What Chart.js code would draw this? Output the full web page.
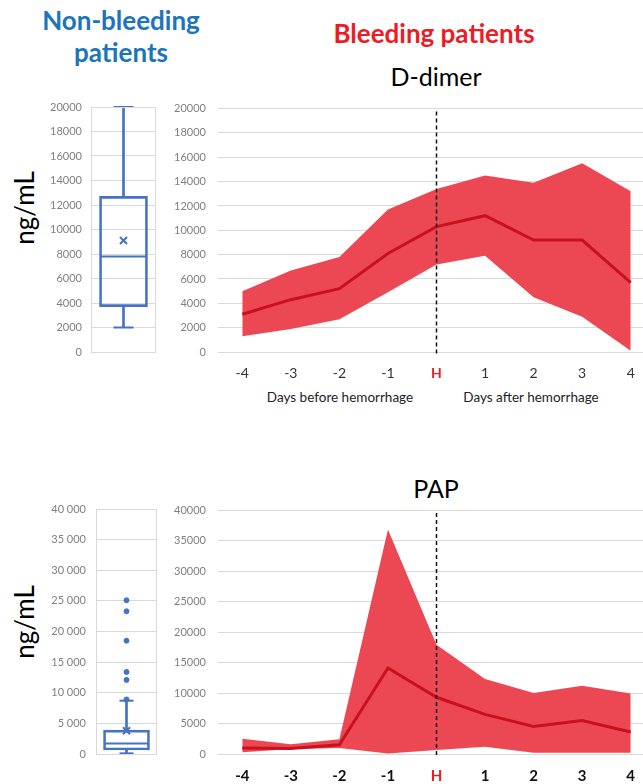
<!DOCTYPE html>
<html>
<head>
<meta charset="utf-8">
<script src="https://cdn.jsdelivr.net/npm/chart.js@4.4.0/dist/chart.umd.min.js"></script>
<style>
html, body { margin: 0; padding: 0; overflow: hidden; background: #fff; width: 643px; height: 784px; }
body { position: relative; font-family: Lato, sans-serif; }
.txt { position: absolute; transform: translate(-50%, -50%); white-space: nowrap; line-height: 1; }
.unit { position: absolute; transform: translate(-50%, -50%) rotate(-90deg); font-size: 26px; white-space: nowrap; line-height: 1; color: #000; }
canvas { position: absolute; }
</style>
</head>
<body>
<div class="txt" style="left:121px;top:20px;font-size:26px;font-weight:bold;color:#1b75bc">Non-bleeding</div>
<div class="txt" style="left:121px;top:52px;font-size:26px;font-weight:bold;color:#1b75bc">patients</div>
<div class="txt" style="left:434px;top:33px;font-size:26px;font-weight:bold;color:#ed1c24">Bleeding patients</div>
<div class="txt" style="left:436px;top:76px;font-size:25px;color:#000">D-dimer</div>
<div class="txt" style="left:436px;top:488px;font-size:25px;color:#000">PAP</div>
<div class="unit" style="left:24px;top:208px">ng/mL</div>
<div class="unit" style="left:24px;top:622px">ng/mL</div>
<div class="txt" style="left:340px;top:398px;font-size:13.5px;color:#222">Days before hemorrhage</div>
<div class="txt" style="left:531px;top:398px;font-size:13.5px;color:#222">Days after hemorrhage</div>

<canvas id="ddimer-box" width="160" height="290" style="left:0;top:90px"></canvas>
<canvas id="ddimer-line" width="500" height="300" style="left:160px;top:90px"></canvas>
<canvas id="pap-box" width="170" height="294" style="left:0;top:490px"></canvas>
<canvas id="pap-line" width="500" height="294" style="left:160px;top:490px"></canvas>

<script>
// days relative to the hemorrhage (H)
const days = ['-4', '-3', '-2', '-1', 'H', '1', '2', '3', '4'];

// D-dimer, bleeding patients
const ddimerUpper = [5000, 6700, 7800, 11700, 13400, 14500, 13900, 15500, 13200];
const ddimerMedian = [3100, 4300, 5200, 8100, 10300, 11200, 9200, 9200, 5700];
const ddimerLower = [1300, 1900, 2700, 4900, 7200, 7900, 4500, 2900, 100];

// PAP, bleeding patients
const papUpper = [2500, 1600, 2400, 36800, 17900, 12300, 10000, 11200, 9900];
const papMedian = [1000, 900, 1500, 14100, 9300, 6500, 4500, 5500, 3600];
const papLower = [300, 800, 1000, 100, 650, 1200, 200, 200, 200];

// non-bleeding patients: min, q1, median, q3, max
const ddimerNonBleeding = [2000, 3700, 7800, 12700, 20000];
const ddimerNonBleedingMean = 9100;
const ddimerOutliers = [];
const papNonBleeding = [100, 650, 1700, 3900, 8700];
const papNonBleedingMean = 3800;
const papOutliers = [8900, 12100, 13400, 18500, 23300, 25100];

const blue = '#4472c4';
const bandRed = '#ec4853';
const lineRed = '#c8101e';
const titleRed = '#ed1c24';
const gridGrey = '#d9d9d9';
const tickGrey = '#808080';

Chart.defaults.font.family = 'Lato, sans-serif';
Chart.defaults.animation = false;

const frame = {
    id: 'frame',
    afterDraw(chart) {
        const a = chart.chartArea;
        const ctx = chart.ctx;
        ctx.save();
        ctx.strokeStyle = gridGrey;
        ctx.lineWidth = 1;
        ctx.strokeRect(a.left + 0.5, a.top + 0.5, a.right - a.left - 1, a.bottom - a.top);
        ctx.restore();
    }
};

const hemorrhageLine = {
    id: 'hemorrhageLine',
    afterDatasetsDraw(chart) {
        const x = chart.scales.x.getPixelForValue(days.indexOf('H'));
        const a = chart.chartArea;
        const ctx = chart.ctx;
        ctx.save();
        ctx.strokeStyle = '#111';
        ctx.lineWidth = 1.5;
        ctx.setLineDash([4, 3]);
        ctx.beginPath();
        ctx.moveTo(x, a.top + 3);
        ctx.lineTo(x, a.bottom + 3);
        ctx.stroke();
        ctx.restore();
    }
};

function spaced(v) {
    return v.toString().replace(/\B(?=(\d{3})+(?!\d))/g, ' ');
}

function boxChart(id, stats, mean, outliers, o) {
    let [lo, q1, med, q3, hi] = stats;
    new Chart(document.getElementById(id), {
        type: 'bar',
        data: {
            labels: ['N'],
            datasets: [
                { data: [[q1, q3]], backgroundColor: 'rgba(0,0,0,0)', borderColor: blue, borderWidth: 2,
                  borderSkipped: false, barThickness: o.boxWidth, grouped: false },
                { data: [[q3, hi]], backgroundColor: blue, borderWidth: 0, barThickness: 2, grouped: false },
                { data: [[lo, q1]], backgroundColor: blue, borderWidth: 0, barThickness: 2, grouped: false },
                { type: 'line', data: [med], showLine: false, pointStyle: 'line', pointRadius: o.boxWidth / 2 - 1,
                  pointBorderColor: blue, pointBorderWidth: 2 },
                { type: 'line', data: [{ x: 'N', y: hi }, { x: 'N', y: lo }], showLine: false, pointStyle: 'line',
                  pointRadius: o.capWidth / 2, pointBorderColor: blue, pointBorderWidth: 2, clip: false },
                { type: 'line', data: [mean], showLine: false, pointStyle: 'crossRot', pointRadius: 5,
                  pointBorderColor: blue, pointBorderWidth: 2 },
                { type: 'line', data: outliers.map(v => ({ x: 'N', y: v })), showLine: false, pointStyle: 'circle',
                  pointRadius: 2.5, pointBackgroundColor: blue, pointBorderColor: blue, pointBorderWidth: 1 }
            ]
        },
        options: {
            responsive: false,
            layout: { padding: o.padding, autoPadding: false },
            plugins: { legend: { display: false }, tooltip: { enabled: false } },
            scales: {
                x: { display: false, offset: true },
                y: {
                    min: 0, max: o.max,
                    grid: { color: gridGrey, drawTicks: false },
                    border: { display: false },
                    ticks: { stepSize: o.step, padding: o.tickPad, color: tickGrey, font: { size: 11 }, callback: o.format },
                    afterFit: s => { s.width = o.axisWidth; }
                }
            }
        },
        plugins: [frame]
    });
}

function bandChart(id, upper, median, lower, o) {
    new Chart(document.getElementById(id), {
        type: 'line',
        data: {
            labels: days,
            datasets: [
                { data: median, borderColor: lineRed, borderWidth: 3, pointRadius: 0, fill: false, tension: 0 },
                { data: upper, borderWidth: 0, borderColor: bandRed, backgroundColor: bandRed, pointRadius: 0, fill: '+1', tension: 0 },
                { data: lower, borderWidth: 0, borderColor: bandRed, pointRadius: 0, fill: false, tension: 0 }
            ]
        },
        options: {
            responsive: false,
            layout: { padding: o.padding, autoPadding: false },
            plugins: { legend: { display: false }, tooltip: { enabled: false } },
            scales: {
                x: {
                    offset: true,
                    grid: { display: false, drawTicks: false },
                    border: { display: false },
                    ticks: {
                        padding: o.xPad,
                        color: c => days[c.index] === 'H' ? titleRed : o.xColor,
                        font: c => ({ size: o.xSize, weight: (days[c.index] === 'H' || o.xBold) ? 'bold' : 'normal' })
                    },
                    afterFit: s => { s.height = o.xHeight; }
                },
                y: {
                    min: 0, max: o.max,
                    grid: { color: gridGrey, drawTicks: false },
                    border: { display: false },
                    ticks: { stepSize: o.step, padding: 12, color: tickGrey, font: { size: 11 }, callback: v => v },
                    afterFit: s => { s.width = 58; }
                }
            }
        },
        plugins: [hemorrhageLine]
    });
}

boxChart('ddimer-box', ddimerNonBleeding, ddimerNonBleedingMean, ddimerOutliers, {
    max: 20000, step: 2000, boxWidth: 48, capWidth: 20, axisWidth: 91, tickPad: 9,
    padding: { top: 17, right: 4, bottom: 28, left: 0 }, format: v => v
});

boxChart('pap-box', papNonBleeding, papNonBleedingMean, papOutliers, {
    max: 40000, step: 5000, boxWidth: 46, capWidth: 14, axisWidth: 96, tickPad: 10,
    padding: { top: 19, right: 13, bottom: 30, left: 0 }, format: spaced
});

bandChart('ddimer-line', ddimerUpper, ddimerMedian, ddimerLower, {
    max: 20000, step: 2000, xPad: 13, xSize: 14, xBold: false, xColor: '#333', xHeight: 38,
    padding: { top: 17, right: 5, bottom: 0, left: 0 }
});

bandChart('pap-line', papUpper, papMedian, papLower, {
    max: 40000, step: 5000, xPad: 13, xSize: 15, xBold: true, xColor: '#111', xHeight: 30,
    padding: { top: 20, right: 5, bottom: 0, left: 0 }
});
</script>
</body>
</html>
